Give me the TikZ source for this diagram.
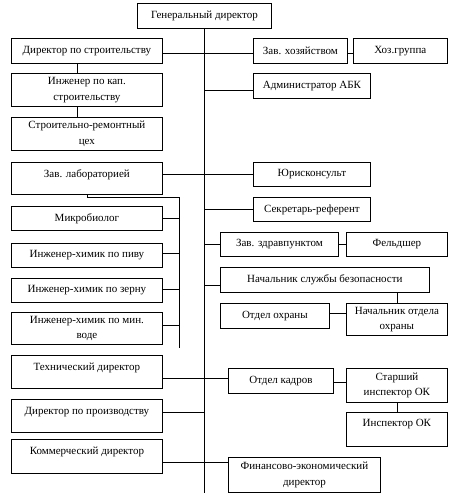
\documentclass[tikz,border=0pt]{standalone}
\usepackage{fontspec}
\setmainfont{Liberation Serif}
\newcommand\bx[7][]{\node[box,minimum width={#5-#3},minimum height={#6-#4},anchor=north west,#1] (#2) at (#3,-#4) {#7};}
\begin{document}
\begin{tikzpicture}[x=1pt,y=1pt,
  box/.style={draw,line width=0.8pt,inner sep=1pt,align=center,font=\fontsize{11}{15.5}\selectfont},
  topt/.style={text height=7pt,text depth=#1},
  ln/.style={line width=0.8pt}]
\useasboundingbox (0,0) rectangle (459,-493);
\bx{gen}{137}{3}{271}{28}{Генеральный директор}
\bx{d1}{11}{38}{162}{63}{Директор по строительству}
\bx{zh}{253}{38}{347}{63}{Зав. хозяйством}
\bx{hg}{353}{38}{447}{63}{Хоз.группа}
\bx{adm}{253}{73}{370}{98}{Администратор АБК}
\bx{ik}{11}{73}{162}{106}{Инженер по кап.\\строительству}
\bx{src}{11}{117}{162}{150}{Строительно-ремонтный\\цех}
\bx[topt=8pt]{lab}{11}{162}{162}{194}{Зав. лабораторией}
\bx{jur}{253}{162}{370}{186}{Юрисконсульт}
\bx{sec}{253}{197}{370}{221}{Секретарь-референт}
\bx{mb}{11}{206}{162}{230}{Микробиолог}
\bx{ip}{11}{243}{162}{267}{Инженер-химик по пиву}
\bx{iz}{11}{278}{162}{302}{Инженер-химик по зерну}
\bx{im}{11}{312}{162}{344}{Инженер-химик по мин.\\воде}
\bx{zz}{220}{232}{338}{256}{Зав. здравпунктом}
\bx{fel}{346}{232}{447}{256}{Фельдшер}
\bx{nsb}{220}{267}{429}{292}{Начальник службы безопасности}
\bx{noo}{346}{303}{447}{335}{Начальник отдела\\охраны}
\bx{oo}{220}{303}{329}{328}{Отдел охраны}
\bx[topt=9pt]{td}{11}{355}{162}{388}{Технический директор}
\bx[topt=9pt]{dp}{11}{399}{162}{432}{Директор по производству}
\bx[topt=10pt]{kd}{11}{439}{162}{473}{Коммерческий директор}
\bx{ok}{228}{368}{333}{393}{Отдел кадров}
\bx{sio}{346}{368}{447}{402}{Старший\\инспектор ОК}
\bx[topt=12pt]{io}{346}{412}{447}{446}{Инспектор ОК}
\bx{fed}{228}{457}{380}{492}{Финансово-экономический\\директор}
\coordinate (mainend) at (gen.south |- 0,-493);
\coordinate (labbus) at (179,-348);
\draw[ln] (gen.south) -- (mainend);
\draw[ln] ([yshift=-2.5]d1.east) -- ([yshift=-2.5]d1.east -| zh.west);
\draw[ln] ([yshift=-2.5]zh.east) -- ([yshift=-2.5]hg.west);
\draw[ln] ([yshift=-4.5]adm.west) -- ([yshift=-4.5]adm.west -| gen.south);
\draw[ln] ([xshift=-9.5]d1.south) -- ([xshift=-9.5]ik.north);
\draw[ln] ([xshift=-9.5]ik.south) -- ([xshift=-9.5]src.north);
\draw[ln] (jur.west) -- (jur.west -| lab.east);
\draw[ln] (sec.west) -- (sec.west -| gen.south);
\draw[ln] (lab.south) -- ++(0,-3) -| (labbus);
\draw[ln] (mb.east) -- (mb.east -| labbus);
\draw[ln] ([yshift=2]ip.east) -- ([yshift=2]ip.east -| labbus);
\draw[ln] ([yshift=1]iz.east) -- ([yshift=1]iz.east -| labbus);
\draw[ln] ([yshift=3]im.east) -- ([yshift=3]im.east -| labbus);
\draw[ln] (zz.west) -- (zz.west -| gen.south);
\draw[ln] (zz.east) -- (fel.west);
\draw[ln] ([yshift=-5.5]nsb.west) -- ([yshift=-5.5]nsb.west -| gen.south);
\draw[ln] (noo.north) -- (noo.north |- nsb.south);
\draw[ln] ([yshift=2.5]oo.east) -- ([yshift=2.5]oo.east -| noo.west);
\draw[ln] ([yshift=-6.5]td.east) -- ([yshift=-6.5]td.east -| ok.west);
\draw[ln] ([yshift=-1.5]ok.east) -- ([yshift=-1.5]ok.east -| sio.west);
\draw[ln] (io.north) -- (io.north |- sio.south);
\draw[ln] ([yshift=3.5]dp.east) -- ([yshift=3.5]dp.east -| gen.south);
\draw[ln] ([yshift=-6]kd.east) -- ([yshift=-6]kd.east -| fed.west);
\end{tikzpicture}
\end{document}
